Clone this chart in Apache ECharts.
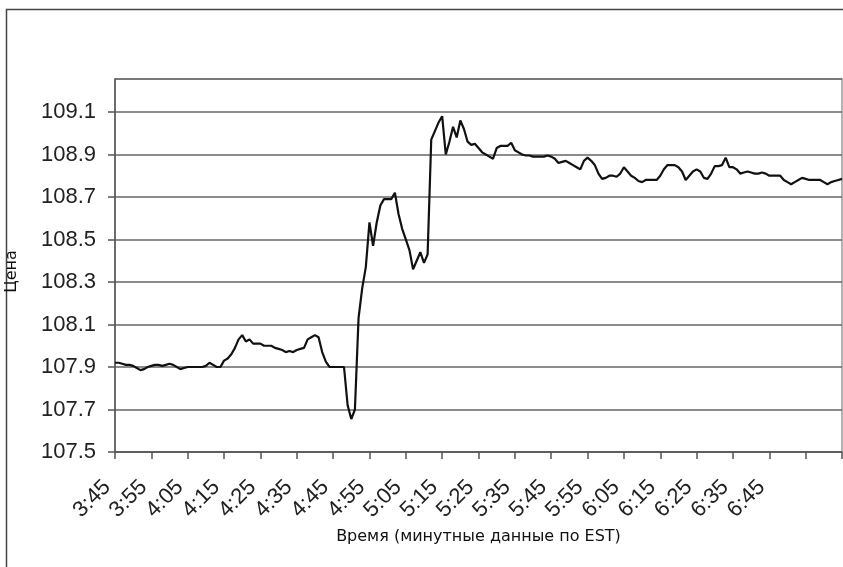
<!DOCTYPE html>
<html>
<head>
<meta charset="utf-8">
<script src="https://cdn.jsdelivr.net/npm/echarts@6/dist/echarts.min.js"></script>
<style>
html,body{margin:0;padding:0;background:#fff;}
#chart{width:843px;height:567px;}
</style>
</head>
<body>
<div id="chart"></div>
<script>
// Minute index 0..200 starting at 3:45
const startHour = 3, startMinute = 45, pointCount = 201;
const tickLabels = ["3:45","3:55","4:05","4:15","4:25","4:35","4:45","4:55","5:05","5:15","5:25","5:35","5:45","5:55","6:05","6:15","6:25","6:35","6:45"];
const yTickLabels = ["107.5","107.7","107.9","108.1","108.3","108.5","108.7","108.9","109.1"];
const price = [
  107.92,107.92,107.915,107.91,107.91,107.905,107.895,107.885,107.89,107.90,
  107.905,107.91,107.91,107.905,107.91,107.915,107.91,107.90,107.89,107.895,
  107.90,107.90,107.90,107.90,107.90,107.905,107.92,107.91,107.90,107.90,
  107.93,107.94,107.96,107.99,108.03,108.05,108.02,108.03,108.01,108.01,
  108.01,108.00,108.00,108.00,107.99,107.985,107.98,107.97,107.975,107.97,
  107.98,107.985,107.99,108.03,108.04,108.05,108.04,107.97,107.925,107.90,
  107.90,107.90,107.90,107.90,107.72,107.655,107.70,108.13,108.27,108.37,
  108.58,108.47,108.58,108.66,108.69,108.69,108.69,108.72,108.62,108.55,
  108.50,108.45,108.36,108.40,108.44,108.39,108.43,108.97,109.01,109.05,
  109.08,108.90,108.96,109.03,108.98,109.06,109.02,108.96,108.945,108.95,
  108.93,108.91,108.90,108.89,108.88,108.93,108.94,108.94,108.94,108.955,
  108.92,108.91,108.90,108.895,108.895,108.89,108.89,108.89,108.89,108.895,
  108.89,108.88,108.86,108.865,108.87,108.86,108.85,108.84,108.83,108.87,
  108.885,108.87,108.85,108.81,108.785,108.79,108.80,108.80,108.795,108.81,
  108.84,108.82,108.80,108.79,108.775,108.77,108.78,108.78,108.78,108.78,
  108.80,108.83,108.85,108.85,108.85,108.84,108.82,108.78,108.80,108.82,
  108.83,108.82,108.79,108.785,108.81,108.845,108.845,108.85,108.885,108.84,
  108.84,108.83,108.81,108.815,108.82,108.815,108.81,108.81,108.815,108.81,
  108.80,108.80,108.80,108.80,108.78,108.77,108.76,108.77,108.78,108.79,
  108.785,108.78,108.78,108.78,108.78,108.77,108.76,108.77,108.775,108.78,108.785
];

const categories = [];
for (let i = 0; i < pointCount; i++) {
  const t = startHour * 60 + startMinute + i;
  categories.push(Math.floor(t / 60) + ':' + String(t % 60).padStart(2, '0'));
}

const chart = echarts.init(document.getElementById('chart'), null, {renderer: 'canvas'});
const labelFont = 'Liberation Sans, Arial, sans-serif';
const titleFont = 'DejaVu Sans, Verdana, sans-serif';
chart.setOption({
  animation: false,
  backgroundColor: '#ffffff',
  graphic: [{
    type: 'rect',
    left: 4, top: 7,
    shape: {width: 900, height: 600},
    style: {fill: 'none', stroke: '#444', lineWidth: 1.5},
    silent: true
  }],
  grid: {
    left: 115, right: 1, top: 79, bottom: 115,
    show: true, borderColor: '#999', borderWidth: 1.5,
    containLabel: false,
    outerBoundsMode: 'none'
  },
  xAxis: {
    type: 'category',
    data: categories,
    boundaryGap: false,
    name: 'Время (минутные данные по EST)',
    nameLocation: 'middle',
    nameGap: 75,
    nameTextStyle: {fontFamily: titleFont, fontSize: 16, color: '#111'},
    axisLine: {show: true, lineStyle: {color: '#555', width: 1.5}},
    axisTick: {show: true, length: 7, inside: false, interval: (i) => i % 10 === 0, lineStyle: {color: '#555', width: 1.5}},
    axisLabel: {
      interval: (i) => i % 10 === 0 && (i / 10) < tickLabels.length,
      formatter: (v, i) => tickLabels[i / 10] || '',
      rotate: 45,
      margin: 24,
      padding: [0, 11, 0, 0],
      fontFamily: labelFont,
      fontSize: 22,
      color: '#222'
    },
    splitLine: {show: false}
  },
  yAxis: {
    type: 'value',
    min: 107.5,
    max: 109.255,
    interval: 0.2,
    name: 'Цена',
    nameLocation: 'middle',
    nameGap: 95,
    nameTextStyle: {fontFamily: titleFont, fontSize: 16, color: '#111', padding: [0, 12, 0, 0]},
    axisLine: {show: true, lineStyle: {color: '#555', width: 1.5}},
    axisTick: {show: true, length: 7, lineStyle: {color: '#555', width: 1.5}},
    axisLabel: {
      showMaxLabel: false,
      margin: 19,
      fontFamily: labelFont,
      fontSize: 22,
      color: '#222',
      formatter: (v) => {
        const s = v.toFixed(1);
        return yTickLabels.indexOf(s) >= 0 ? s : '';
      }
    },
    splitLine: {show: true, lineStyle: {color: '#666', width: 1.5}}
  },
  series: [{
    type: 'line',
    data: price,
    showSymbol: false,
    symbol: 'none',
    lineStyle: {color: '#111', width: 2.2},
    smooth: false
  }]
});
</script>
</body>
</html>
